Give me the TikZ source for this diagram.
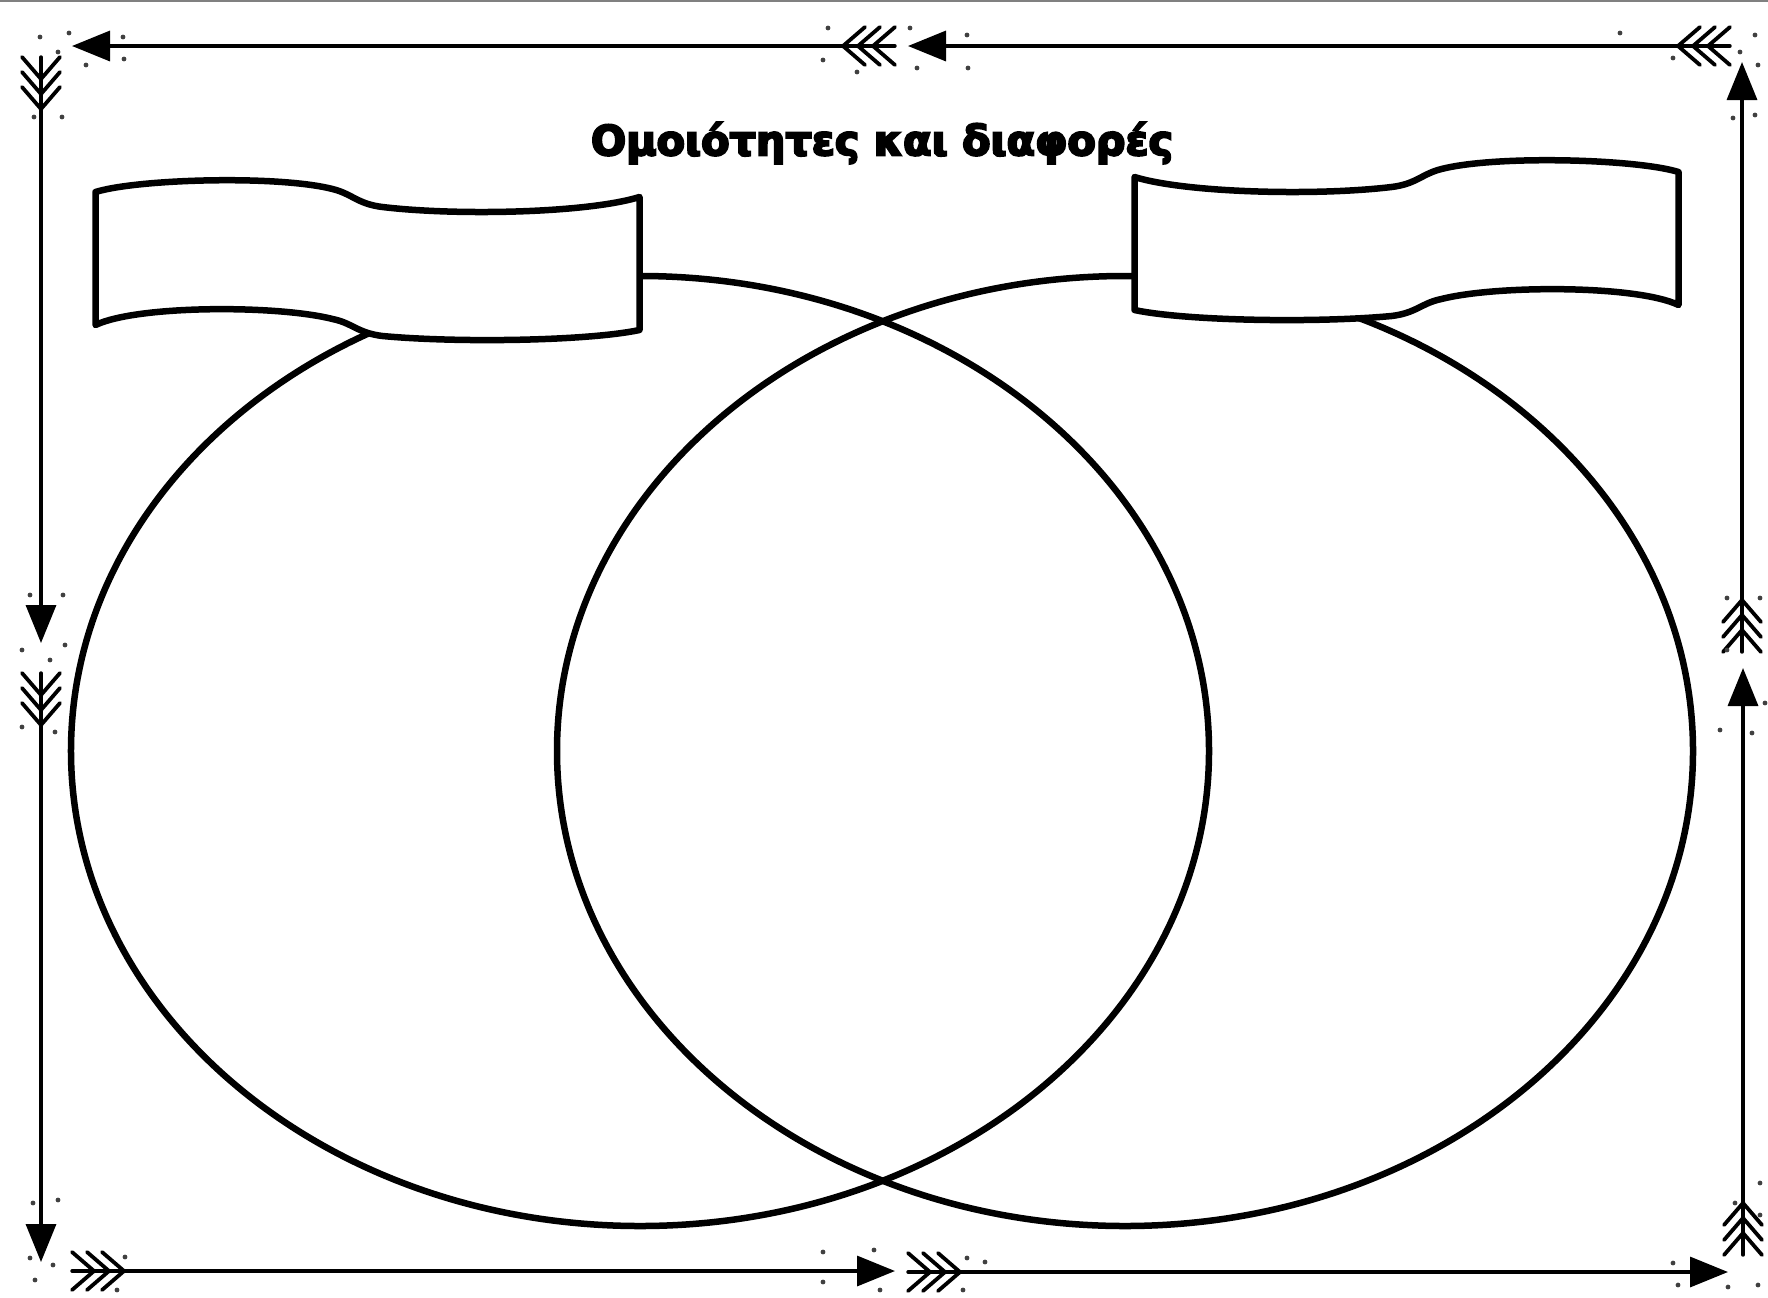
\documentclass[tikz,border=0pt]{standalone}
\usepackage{fontspec}
\newfontfamily\titlefont{DejaVu Sans}[BoldFeatures={FakeBold=5}]
\usetikzlibrary{arrows.meta,decorations.markings}
\tikzset{
  fancyarrow/.style={line width=3.4bp, line cap=round,
    -{Triangle[length=38bp,width=30bp]},
    postaction=decorate,
    decoration={markings, mark=at position 0 with {
      \foreach \v in {22,37,52}{\draw[line width=3.8bp,-] ({\v-22},19) -- (\v,0) -- ({\v-22},-19);}
    }}},
  venn/.style={line width=6.5bp},
  ribbon/.style={line width=6.5bp, line join=round, fill=white},
  speck/.style={fill=black!75}
}
\begin{document}
\begin{tikzpicture}[x=1bp,y=-1bp]
\useasboundingbox (0,0) rectangle (1768,1297);
\fill[white] (0,0) rectangle (1768,1297);
\draw[gray, line width=2.5bp] (0,1) -- (1768,1);

% border arrows: named end points
\coordinate (t1) at (895,46);   \coordinate (h1) at (72,46);
\coordinate (t2) at (1730,46);  \coordinate (h2) at (908,46);
\coordinate (t3) at (1743,1255);\coordinate (h3) at (1743,668);
\coordinate (t4) at (1742,652); \coordinate (h4) at (1742,62);
\coordinate (t5) at (72,1271);  \coordinate (h5) at (895,1271);
\coordinate (t6) at (908,1272); \coordinate (h6) at (1728,1272);
\coordinate (t7) at (41,57);    \coordinate (h7) at (41,643);
\coordinate (t8) at (41,673);   \coordinate (h8) at (41,1262);
\foreach \i in {1,...,8}{\draw[fancyarrow] (t\i) -- (h\i);}

% specks
\foreach \a/\b in {40/37,69/33,58/52,123/37,124/59,86/65,34/117,62/117,
  828/28,823/60,910/28,917/68,967/35,968/68,857/72,
  1755/35,1740/52,1758/65,1673/58,1733/118,1755/115,1620/33,
  30/595,63/595,65/645,22/650,50/660,22/727,55/732,
  1727/598,1760/598,1720/730,1752/733,1765/703,1727/650,
  33/1203,58/1200,53/1265,35/1280,30/1258,125/1257,117/1290,
  823/1252,874/1250,823/1282,880/1290,967/1258,985/1262,963/1290,
  1760/1183,1760/1215,1735/1203,1673/1263,1678/1285,1728/1287,1758/1285}
  {\fill[speck] (\a,\b) circle[radius=2.4bp];}

% Venn ellipses
\draw[venn] (640,751) ellipse [x radius=569bp, y radius=475bp];
\draw[venn] (1125,751) ellipse [x radius=568bp, y radius=475bp];

% banners
\begin{scope}[shift={(367.5,261)}]
\draw[ribbon] (-272,-69) .. controls (-230,-82) and (-90,-86) .. (-35,-72)
  .. controls (-15,-67) and (-10,-57) .. (15,-54)
  .. controls (90,-45) and (220,-48) .. (272,-64) -- (272,69)
  .. controls (220,80) and (90,82) .. (15,75)
  .. controls (-10,72) and (-15,62) .. (-35,58)
  .. controls (-90,44) and (-230,44) .. (-272,64) -- cycle;
\end{scope}
\begin{scope}[shift={(1406.5,241)}, xscale=-1]
\draw[ribbon] (-272,-69) .. controls (-230,-82) and (-90,-86) .. (-35,-72)
  .. controls (-15,-67) and (-10,-57) .. (15,-54)
  .. controls (90,-45) and (220,-48) .. (272,-64) -- (272,69)
  .. controls (220,80) and (90,82) .. (15,75)
  .. controls (-10,72) and (-15,62) .. (-35,58)
  .. controls (-90,44) and (-230,44) .. (-272,64) -- cycle;
\end{scope}

% title
\node (title) at (882,143) {\resizebox{582bp}{!}{\titlefont\bfseries\fontsize{40}{48}\selectfont Ομοιότητες και διαφορές}};
\end{tikzpicture}
\end{document}
